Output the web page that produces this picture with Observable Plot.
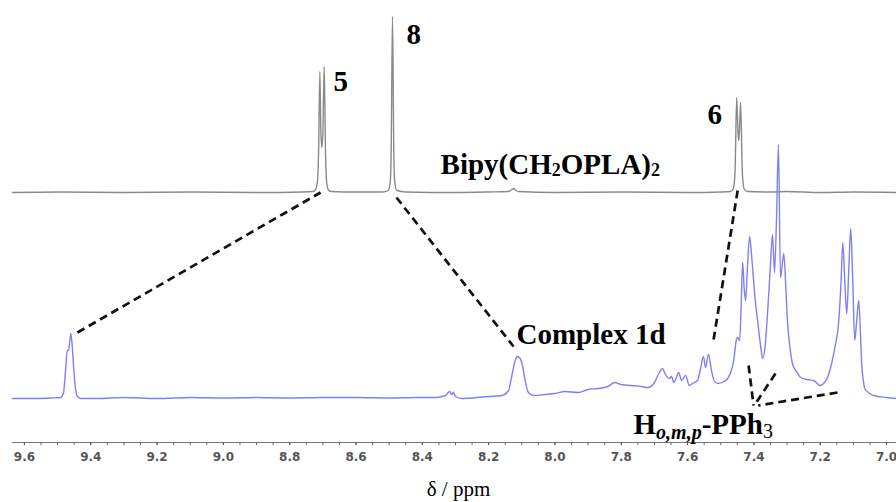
<!DOCTYPE html>
<html><head><meta charset="utf-8">
<script src="https://cdn.jsdelivr.net/npm/d3@7"></script>
<script src="https://cdn.jsdelivr.net/npm/@observablehq/plot@0.6"></script>
<style>body{margin:0;background:#fff}</style>
</head><body><div id="chart"></div>
<script>
// ppm, intensity (relative to its own baseline)
const grayPpm = [9.636,9.5,9.3,9.1,8.9,8.76,8.73,8.722,8.716,8.713,8.709,8.706,8.703,8.700,8.696,8.692,8.689,8.684,8.675,8.6,8.52,8.503,8.497,8.494,8.490,8.486,8.483,8.477,8.45,8.3,8.2,8.14,8.13,8.125,8.118,8.11,8.0,7.8,7.6,7.5,7.47,7.462,7.457,7.452,7.448,7.446,7.444,7.440,7.435,7.43,7.42,7.35,7.3,7.2,7.1,6.97];
const grayInt = [0,0.5,0,0.5,0,0.5,1,3,12,40,121,60,45,60,126,40,12,3,1,0.5,0.5,2,10,40,176,40,10,2,0.5,0,0.5,1,3,4,2,1,0,0.5,0,0.5,1,4,20,95,60,52,60,90,20,4,1,0.5,1,0,0.5,0];

const bluePpm = [9.636,9.58,9.52,9.49,9.482,9.476,9.471,9.467,9.463,9.460,9.456,9.451,9.446,9.44,9.43,9.38,9.3,9.2,9.1,9.0,8.9,8.8,8.7,8.6,8.5,8.42,8.36,8.33,8.322,8.317,8.312,8.306,8.3,8.28,8.2,8.16,8.14,8.13,8.12,8.113,8.105,8.098,8.09,8.08,8.065,8.03,8.0,7.97,7.93,7.9,7.87,7.84,7.82,7.8,7.77,7.74,7.72,7.7,7.685,7.676,7.667,7.655,7.648,7.642,7.635,7.627,7.618,7.606,7.595,7.585,7.57,7.562,7.552,7.546,7.537,7.528,7.52,7.51,7.49,7.479,7.468,7.461,7.452,7.449,7.443,7.438,7.434,7.429,7.425,7.42,7.413,7.407,7.404,7.396,7.389,7.38,7.374,7.366,7.359,7.351,7.344,7.338,7.332,7.326,7.320,7.315,7.310,7.304,7.299,7.29,7.284,7.27,7.259,7.24,7.22,7.2,7.19,7.178,7.165,7.156,7.144,7.137,7.132,7.126,7.120,7.114,7.108,7.102,7.096,7.09,7.084,7.079,7.075,7.07,7.066,7.05,7.039,7.0,6.97];
const blueInt = [2,2,2.5,3,8,30,50,50,60,67,55,30,12,4,2,2,3,2,3,2.5,3,2.5,3,3,2.5,3,3,5,8,9,6,8,4,2,4,5,10,25,40,44,42,35,20,8,5,6,7,9,8,11,12,14,18,16,15,14,13,18,28,32,26,22,24,18,22,28,20,25,15,17,20,30,44,33,46,30,20,17,19,22,30,40,62,63,60,100,138,110,100,130,164,145,133,100,80,55,42,55,87,130,166,128,180,256,123,135,147,115,80,50,37,28,23,21,20,15,17,23,38,53,80,120,158,120,87,130,172,120,60,80,100,70,37,20,12,7,5,3,2];

const majorTicks = [9.6,9.4,9.2,9.0,8.8,8.6,8.4,8.2,8.0,7.8,7.6,7.4,7.2,7.0];
const minorTicks = d3.range(0, 53).map(i => +(9.6 - i * 0.05).toFixed(2));

// dashed correlation lines (ppm, intensity in lower-trace units)
const linkX1 = [9.44, 8.478, 7.449, 7.416, 7.335, 7.148];
const linkY1 = [68, 203, 210, 35, 27, 8];
const linkX2 = [8.707, 8.125, 7.522, 7.401, 7.395, 7.387];
const linkY2 = [208, 54, 60, -5, -3, -5];

const labelText = ["5", "8", "6", "Bipy(CH2OPLA)2", "Complex 1d", "Ho,m,p-PPh3"];
const labelX = [8.668, 8.448, 7.540, 8.345, 8.116, 7.763];
const labelY = [310, 357, 277, 227, 57, -33];

const grayOffset = 208;
const gray = grayPpm.map((p, i) => ({ppm: p, v: grayInt[i] + grayOffset}));
const blue = bluePpm.map((p, i) => ({ppm: p, v: blueInt[i]}));
const links = linkX1.map((x1, i) => ({x1, y1: linkY1[i], x2: linkX2[i], y2: linkY2[i]}));
const labels = labelText.map((t, i) => ({t, x: labelX[i], y: labelY[i]}));

const svg = Plot.plot({
  width: 896, height: 502,
  marginLeft: 12, marginRight: 0, marginTop: 0, marginBottom: 60,
  x: {domain: [9.636, 6.97], axis: null},
  y: {domain: [-42, 400], axis: null},
  style: {background: "#fff"},
  marks: [
    Plot.ruleY([-42], {stroke: "#777", strokeWidth: 1.2}),
    Plot.axisX(minorTicks, {tickSize: 3, tickFormat: () => "", stroke: "#666", label: null}),
    Plot.axisX(majorTicks, {tickSize: 3, tickPadding: 7, tickFormat: d => d.toFixed(1), fontSize: 12, fontWeight: "bold", fontFamily: "DejaVu Sans", color: "#555", label: null}),
    Plot.line(gray, {x: "ppm", y: "v", stroke: "#8a8a8a", strokeWidth: 1.4, curve: "monotone-x"}),
    Plot.line(blue, {x: "ppm", y: "v", stroke: "#8080f2", strokeWidth: 1.4, curve: "monotone-x"}),
    Plot.link(links, {x1: "x1", y1: "y1", x2: "x2", y2: "y2", stroke: "#111", strokeWidth: 2.7, strokeDasharray: "8,5"}),
    Plot.text(labels, {x: "x", y: "y", text: "t", textAnchor: "start", lineAnchor: "bottom", fontSize: 29, fontWeight: "bold", fontFamily: "Liberation Serif", fill: "#000"}),
    Plot.text(["δ / ppm"], {frameAnchor: "bottom", dx: 4, dy: 53, lineAnchor: "bottom", fontSize: 21, fontFamily: "Liberation Serif", fill: "#000"})
  ]
});

const root = d3.select(svg);
root.selectAll("text").filter(function() { return this.textContent === "Bipy(CH2OPLA)2"; }).each(function() {
  const t = d3.select(this); t.text(null);
  t.append("tspan").text("Bipy(CH");
  t.append("tspan").attr("font-size", 18).attr("dy", 2).text("2");
  t.append("tspan").attr("dy", -2).text("OPLA)");
  t.append("tspan").attr("font-size", 18).attr("dy", 2).text("2");
});
root.selectAll("text").filter(function() { return this.textContent === "Ho,m,p-PPh3"; }).each(function() {
  const t = d3.select(this); t.text(null);
  t.append("tspan").text("H");
  t.append("tspan").attr("font-size", 20).attr("font-style", "italic").attr("dy", 5).text("o,m,p");
  t.append("tspan").attr("dy", -5).text("-PPh");
  t.append("tspan").attr("font-size", 20).attr("font-weight", "normal").attr("dy", 4).text("3");
});
document.getElementById("chart").appendChild(svg);
</script>
</body></html>
